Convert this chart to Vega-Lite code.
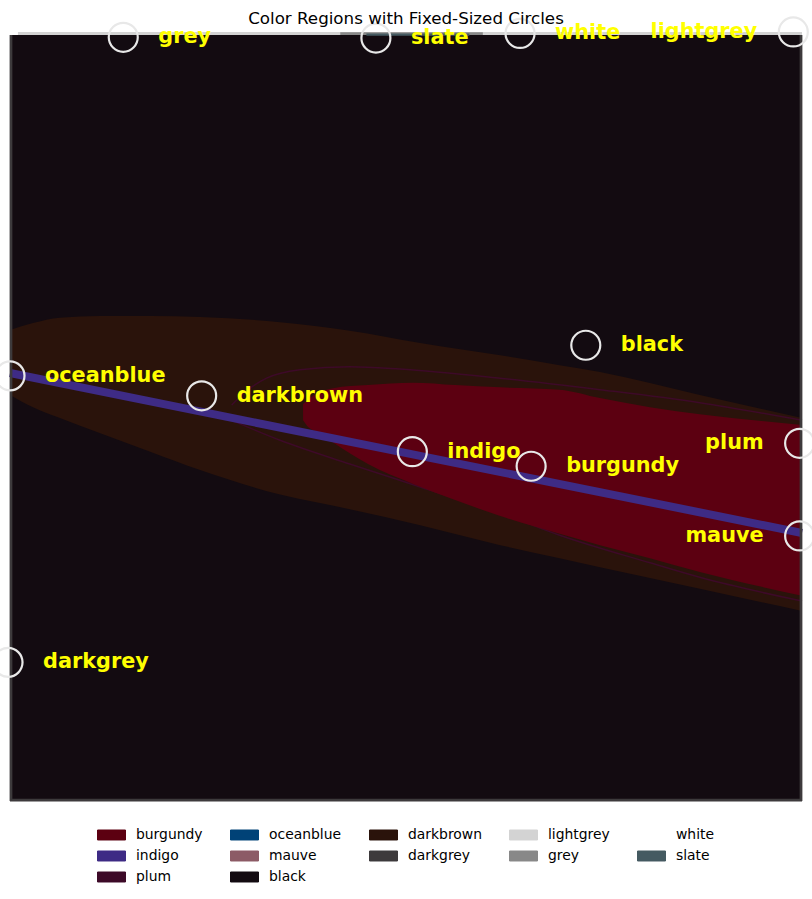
{
  "$schema": "https://vega.github.io/schema/vega-lite/v6.json",
  "width": 792,
  "height": 766,
  "autosize": {"type": "none"},
  "padding": {"left": 10, "top": 35, "right": 10, "bottom": 98},
  "title": {
    "text": "Color Regions with Fixed-Sized Circles",
    "font": "DejaVu Sans",
    "fontSize": 16.7,
    "fontWeight": "normal",
    "color": "#000000",
    "anchor": "middle",
    "frame": "group",
    "baseline": "alphabetic",
    "offset": 11.5,
    "dy": 39
  },
  "datasets": {
    "background": [
      {"cat": "black", "x": 0, "x2": 100, "y": 0, "y2": 100}
    ],
    "darkbrown": [
      {"cat": "darkbrown", "x": 0, "y": 61.5, "y2": 53.0},
      {"cat": "darkbrown", "x": 2.9, "y": 62.4, "y2": 51.4},
      {"cat": "darkbrown", "x": 6.3, "y": 63.1, "y2": 50.0},
      {"cat": "darkbrown", "x": 11.4, "y": 63.3, "y2": 48.0},
      {"cat": "darkbrown", "x": 17.7, "y": 63.3, "y2": 45.6},
      {"cat": "darkbrown", "x": 24.0, "y": 63.2, "y2": 43.2},
      {"cat": "darkbrown", "x": 34.1, "y": 62.5, "y2": 40.0},
      {"cat": "darkbrown", "x": 42.9, "y": 61.4, "y2": 38.1},
      {"cat": "darkbrown", "x": 51.8, "y": 59.8, "y2": 36.0},
      {"cat": "darkbrown", "x": 61.9, "y": 58.2, "y2": 33.4},
      {"cat": "darkbrown", "x": 69.4, "y": 56.9, "y2": 31.7},
      {"cat": "darkbrown", "x": 74.5, "y": 56.0, "y2": 30.5},
      {"cat": "darkbrown", "x": 87.1, "y": 53.0, "y2": 27.7},
      {"cat": "darkbrown", "x": 100, "y": 50.0, "y2": 24.8}
    ],
    "plumlines": [
      {"cat": "plum", "part": "upper", "x": 28.0, "y": 51.7},
      {"cat": "plum", "part": "upper", "x": 29.7, "y": 53.4},
      {"cat": "plum", "part": "upper", "x": 32.4, "y": 55.2},
      {"cat": "plum", "part": "upper", "x": 36.6, "y": 56.3},
      {"cat": "plum", "part": "upper", "x": 42.9, "y": 56.7},
      {"cat": "plum", "part": "upper", "x": 49.2, "y": 56.4},
      {"cat": "plum", "part": "upper", "x": 61.9, "y": 55.2},
      {"cat": "plum", "part": "upper", "x": 74.5, "y": 53.7},
      {"cat": "plum", "part": "upper", "x": 87.1, "y": 52.0},
      {"cat": "plum", "part": "upper", "x": 100, "y": 49.7},
      {"cat": "plum", "part": "lower", "x": 28.0, "y": 49.7},
      {"cat": "plum", "part": "lower", "x": 34.1, "y": 47.1},
      {"cat": "plum", "part": "lower", "x": 42.9, "y": 44.0},
      {"cat": "plum", "part": "lower", "x": 51.8, "y": 41.0},
      {"cat": "plum", "part": "lower", "x": 61.9, "y": 37.6},
      {"cat": "plum", "part": "lower", "x": 69.4, "y": 34.7},
      {"cat": "plum", "part": "lower", "x": 80.8, "y": 31.1},
      {"cat": "plum", "part": "lower", "x": 87.1, "y": 29.2},
      {"cat": "plum", "part": "lower", "x": 100, "y": 26.1}
    ],
    "burgundy": [
      {"cat": "burgundy", "x": 37.0, "y": 51.8, "y2": 49.7},
      {"cat": "burgundy", "x": 37.5, "y": 52.3, "y2": 49.0},
      {"cat": "burgundy", "x": 38.9, "y": 53.3, "y2": 48.1},
      {"cat": "burgundy", "x": 40.8, "y": 53.9, "y2": 46.8},
      {"cat": "burgundy", "x": 45.2, "y": 54.3, "y2": 44.0},
      {"cat": "burgundy", "x": 50.9, "y": 54.6, "y2": 41.4},
      {"cat": "burgundy", "x": 56.2, "y": 54.3, "y2": 39.3},
      {"cat": "burgundy", "x": 61.9, "y": 54.0, "y2": 37.2},
      {"cat": "burgundy", "x": 69.4, "y": 53.7, "y2": 34.9},
      {"cat": "burgundy", "x": 74.5, "y": 52.6, "y2": 33.4},
      {"cat": "burgundy", "x": 80.8, "y": 51.4, "y2": 31.7},
      {"cat": "burgundy", "x": 87.1, "y": 50.5, "y2": 29.9},
      {"cat": "burgundy", "x": 100, "y": 49.1, "y2": 26.8}
    ],
    "indigo": [
      {"cat": "indigo", "x": 0, "y": 55.87},
      {"cat": "indigo", "x": 100, "y": 34.99}
    ],
    "edges": [
      {"cat": "darkgrey", "x": -0.05, "x2": 0.3, "y": 0, "y2": 100},
      {"cat": "darkgrey", "x": 0, "x2": 100, "y": -0.05, "y2": 0.3},
      {"cat": "darkgrey", "x": 99.7, "x2": 100.05, "y": 0, "y2": 100},
      {"cat": "lightgrey", "x": 1, "x2": 100, "y": 100, "y2": 100.4},
      {"cat": "grey", "x": 41.7, "x2": 59.7, "y": 100, "y2": 100.35},
      {"cat": "slate", "x": 45, "x2": 58, "y": 99.9, "y2": 100.2}
    ],
    "circles": [
      {"name": "grey", "x": 14.3, "y": 99.7},
      {"name": "slate", "x": 46.2, "y": 99.6},
      {"name": "white", "x": 64.4, "y": 100.2},
      {"name": "lightgrey", "x": 98.9, "y": 100.4},
      {"name": "black", "x": 72.7, "y": 59.5},
      {"name": "oceanblue", "x": 0, "y": 55.5},
      {"name": "darkbrown", "x": 24.2, "y": 52.9},
      {"name": "indigo", "x": 50.8, "y": 45.6},
      {"name": "burgundy", "x": 65.8, "y": 43.7},
      {"name": "plum", "x": 99.7, "y": 46.7},
      {"name": "mauve", "x": 99.7, "y": 34.6},
      {"name": "darkgrey", "x": -0.25, "y": 18.1}
    ]
  },
  "encoding": {
    "x": {"field": "x", "type": "quantitative", "scale": {"domain": [0, 100], "nice": false, "zero": false}, "axis": null},
    "y": {"field": "y", "type": "quantitative", "scale": {"domain": [0, 100], "nice": false, "zero": false}, "axis": null}
  },
  "layer": [
    {
      "data": {"name": "background"},
      "mark": {"type": "rect", "opacity": 1},
      "encoding": {
        "x2": {"field": "x2"},
        "y2": {"field": "y2"},
        "color": {
          "field": "cat",
          "type": "nominal",
          "scale": {
            "domain": ["burgundy", "oceanblue", "darkbrown", "lightgrey", "white", "indigo", "mauve", "darkgrey", "grey", "slate", "plum", "black"],
            "range": ["#5c0011", "#004277", "#2a130b", "#d3d3d3", "#ffffff", "#3e2b85", "#8c5b66", "#3d3a3c", "#888888", "#445a61", "#3d0a28", "#130b11"]
          },
          "legend": {
            "title": null,
            "orient": "none",
            "legendX": 87,
            "legendY": 793,
            "direction": "horizontal",
            "columns": 5,
            "padding": 0,
            "symbolType": "M-1,-0.357H1V0.357H-1Z",
            "symbolSize": 784,
            "symbolOpacity": 1,
            "symbolStrokeWidth": 1,
            "clipHeight": 14,
            "labelFont": "DejaVu Sans",
            "labelFontSize": 13.9,
            "labelColor": "#000000",
            "labelOffset": 10,
            "columnPadding": 27,
            "rowPadding": 7
          }
        }
      }
    },
    {
      "data": {"name": "background"},
      "mark": {"type": "point", "shape": "circle", "filled": false, "size": 0, "opacity": 0},
      "encoding": {
        "stroke": {
          "field": "cat",
          "type": "nominal",
          "scale": {
            "domain": ["burgundy", "oceanblue", "darkbrown", "lightgrey", "white", "indigo", "mauve", "darkgrey", "grey", "slate", "plum", "black"],
            "range": ["#222222", "#222222", "#222222", "#222222", "#222222", "#222222", "#222222", "#222222", "#222222", "#222222", "#222222", "#222222"]
          },
          "legend": {
            "title": null,
            "orient": "none",
            "legendX": 87,
            "legendY": 793,
            "direction": "horizontal",
            "columns": 5,
            "padding": 0,
            "symbolType": "M-1,-0.357H1V0.357H-1Z",
            "symbolSize": 784,
            "symbolOpacity": 1,
            "symbolStrokeWidth": 1,
            "clipHeight": 14,
            "labelFont": "DejaVu Sans",
            "labelFontSize": 13.9,
            "labelColor": "#000000",
            "labelOffset": 10,
            "columnPadding": 27,
            "rowPadding": 7
          }
        }
      }
    },
    {
      "data": {"name": "darkbrown"},
      "mark": {"type": "area", "interpolate": "monotone", "opacity": 1},
      "encoding": {
        "y2": {"field": "y2"},
        "color": {"field": "cat", "type": "nominal"}
      }
    },
    {
      "data": {"name": "plumlines"},
      "mark": {"type": "line", "interpolate": "monotone", "strokeWidth": 1.5},
      "encoding": {
        "detail": {"field": "part"},
        "color": {"field": "cat", "type": "nominal", "legend": null}
      }
    },
    {
      "data": {"name": "burgundy"},
      "mark": {"type": "area", "interpolate": "monotone", "opacity": 1},
      "encoding": {
        "y2": {"field": "y2"},
        "color": {"field": "cat", "type": "nominal"}
      }
    },
    {
      "data": {"name": "indigo"},
      "mark": {"type": "line", "strokeWidth": 8, "strokeCap": "butt"},
      "encoding": {
        "color": {"field": "cat", "type": "nominal", "legend": null}
      }
    },
    {
      "data": {"name": "edges"},
      "mark": {"type": "rect", "opacity": 1},
      "encoding": {
        "x2": {"field": "x2"},
        "y2": {"field": "y2"},
        "color": {"field": "cat", "type": "nominal"}
      }
    },
    {
      "data": {"name": "circles"},
      "mark": {"type": "point", "shape": "circle", "filled": false, "size": 841, "stroke": "#e8e8e8", "strokeWidth": 2.2, "opacity": 1}
    },
    {
      "data": {"name": "circles"},
      "transform": [{"filter": "datum.x < 90"}],
      "mark": {"type": "text", "align": "left", "baseline": "middle", "dx": 35, "font": "DejaVu Sans", "fontSize": 20.8, "fontWeight": "bold", "color": "#ffff00"},
      "encoding": {"text": {"field": "name"}}
    },
    {
      "data": {"name": "circles"},
      "transform": [{"filter": "datum.x >= 90"}],
      "mark": {"type": "text", "align": "right", "baseline": "middle", "dx": -36, "font": "DejaVu Sans", "fontSize": 20.8, "fontWeight": "bold", "color": "#ffff00"},
      "encoding": {"text": {"field": "name"}}
    }
  ],
  "config": {
    "font": "DejaVu Sans",
    "view": {"stroke": null}
  }
}
